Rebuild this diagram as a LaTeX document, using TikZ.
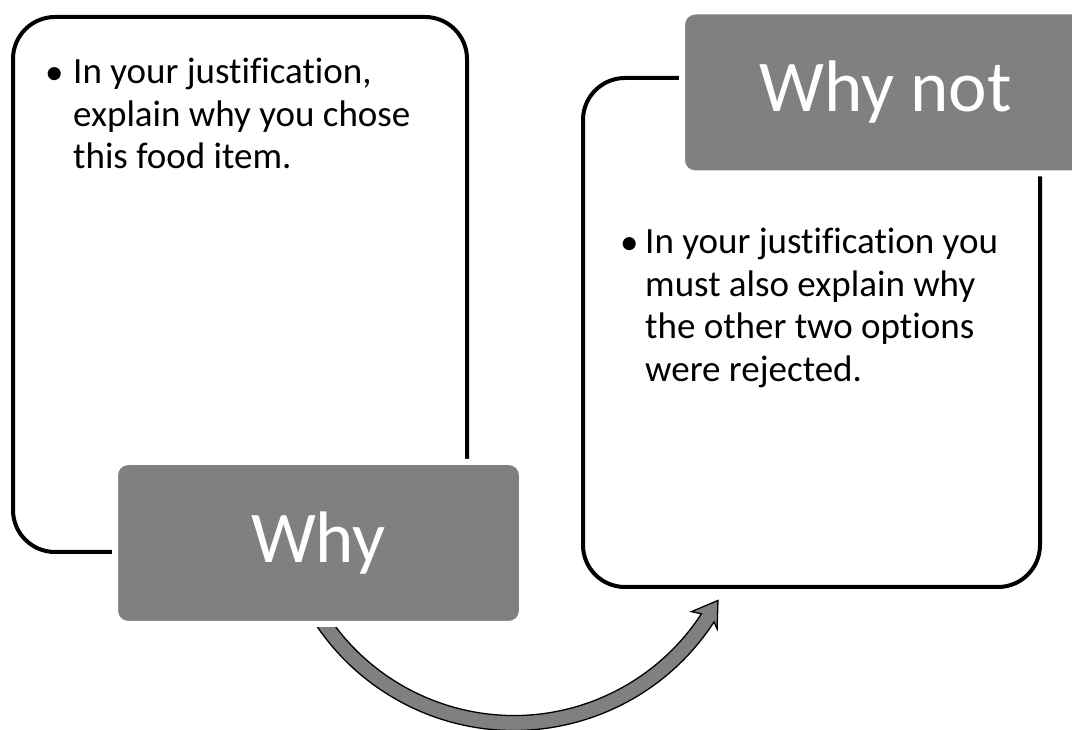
\documentclass[tikz,border=0pt]{standalone}
\usepackage{fontspec}
\setmainfont{Carlito}[Ligatures=NoCommon]
\usetikzlibrary{calc}
\definecolor{boxgray}{HTML}{808080}
\newcommand{\panelbox}[5]{%
  \node[draw,line width=4pt,rounded corners=42pt,inner sep=0pt,
        minimum width=#4pt,minimum height=#5pt] (#1) at (#2,#3) {};}
\newcommand{\titlebox}[4]{%
  \node[fill=boxgray,draw=white,line width=6pt,rounded corners=13pt,
        minimum width=407pt,minimum height=162pt,text=white,
        font=\fontsize{73}{88}\selectfont] (#1) at (#2,#3) {#4};}
\newcommand{\bulletmark}[3]{%
  \node[anchor=base west,inner sep=0pt,font=\fontsize{37}{42.5}\selectfont] (#1) at (#2,#3) {\textbullet};}

\begin{document}
\begin{tikzpicture}[x=1pt,y=1pt]
  \useasboundingbox (0,0) rectangle (1072,729);
  \clip (0,0) rectangle (1072,729);
  \coordinate (ctr) at (514,237);

  % curved arrow (under the boxes)
  \begin{scope}[shift={(ctr)}]
    \filldraw[fill=boxgray,draw=black,line width=1.3pt,line join=miter]
      (205:223.5) arc[start angle=205,end angle=327,radius=223.5]
      -- (326:214) -- (332:231) -- (326:245) -- (327:238.5)
      arc[start angle=327,end angle=205,radius=238.5] -- cycle;
  \end{scope}

  % outlined panels
  \panelbox{whypanel}{240}{444.5}{454}{535}
  \panelbox{notpanel}{811.5}{396.5}{457}{509}

  % gray titles
  \titlebox{why}{318.5}{186}{Why}
  \titlebox{whynot}{885.5}{636.5}{Why not}

  % bullet texts
  \bulletmark{b1}{45}{644}
  \bulletmark{b2}{620}{474}
  \node[anchor=north west,inner sep=0pt,align=left,
        font=\fontsize{37}{42.5}\selectfont] (whytext) at (73,671)
    {In your justification,\\explain why you chose\\this food item.};
  \node[anchor=north west,inner sep=0pt,align=left,
        font=\fontsize{37}{42.5}\selectfont] (nottext) at (645,501)
    {In your justification you\\must also explain why\\the other two options\\were rejected.};
\end{tikzpicture}
\end{document}
